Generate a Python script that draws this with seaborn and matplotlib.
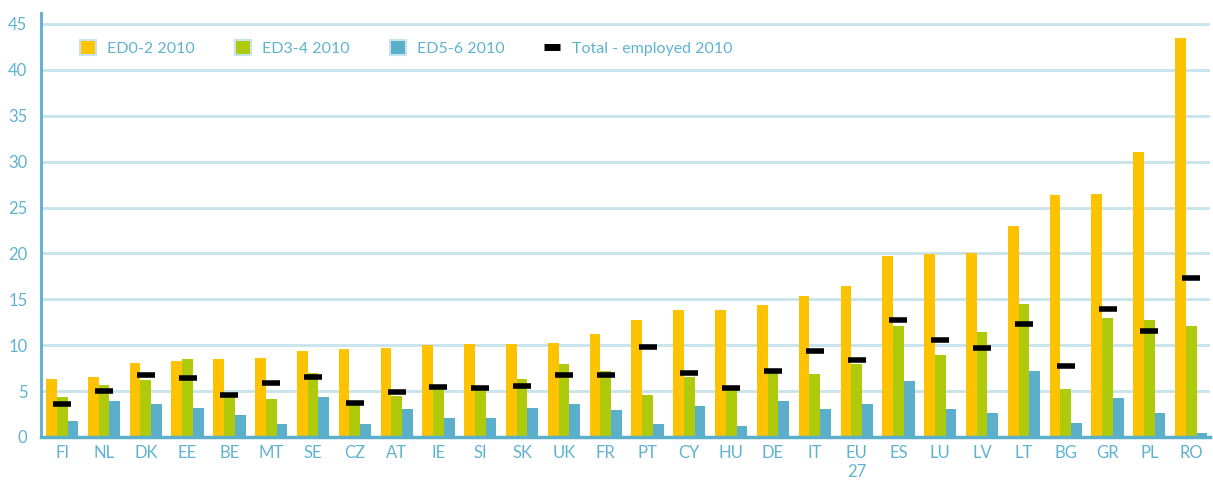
''' Unemployment rate by education level, 2010 '''

import matplotlib.pyplot as plt
import numpy as np
import pandas as pd
import seaborn as sns
from matplotlib.lines import Line2D
from matplotlib.markers import MarkerStyle
from matplotlib.patches import Patch

countries = ["FI", "NL", "DK", "EE", "BE", "MT", "SE", "CZ", "AT", "IE", "SI", "SK",
             "UK", "FR", "PT", "CY", "HU", "DE", "IT", "EU\n27", "ES", "LU", "LV", "LT",
             "BG", "GR", "PL", "RO"]
ed02 = [6.3, 6.5, 8.05, 8.3, 8.5, 8.6, 9.4, 9.6, 9.7, 10.0, 10.1, 10.1,
        10.2, 11.2, 12.7, 13.8, 13.8, 14.4, 15.4, 16.4, 19.7, 19.9, 20.1, 23.0,
        26.4, 26.5, 31.0, 43.5]
ed34 = [4.35, 5.65, 6.2, 8.5, 4.4, 4.15, 7.0, 3.6, 4.45, 5.3, 5.1, 6.3,
        7.95, 7.2, 4.6, 6.5, 5.2, 7.1, 6.9, 7.95, 12.1, 8.9, 11.4, 14.5,
        5.2, 13.0, 12.7, 12.1]
ed56 = [1.75, 3.9, 3.6, 3.15, 2.4, 1.4, 4.35, 1.4, 3.05, 2.1, 2.1, 3.2,
        3.6, 2.9, 1.4, 3.4, 1.2, 3.9, 3.1, 3.6, 6.1, 3.1, 2.6, 7.2,
        1.5, 4.25, 2.6, 0.45]
total = [3.6, 5.05, 6.7, 6.45, 4.6, 5.9, 6.55, 3.75, 4.95, 5.4, 5.3, 5.6,
         6.8, 6.7, 9.8, 7.0, 5.3, 7.2, 9.4, 8.4, 12.8, 10.6, 9.7, 12.3,
         7.7, 13.9, 11.5, 17.35]
series = ["ED0-2 2010", "ED3-4 2010", "ED5-6 2010"]
colors = ["#FDC300", "#AFCA0B", "#5BAFCA"]

TEXT = "#5FB3D0"
GRID = "#C7E3EC"
AXIS = "#5BAFCA"


def main():
    df = pd.DataFrame({"country": countries * 3,
                       "value": ed02 + ed34 + ed56,
                       "series": np.repeat(series, len(countries))})

    sns.set_style("white")
    plt.rcParams["font.family"] = ["Lato", "DejaVu Sans"]
    plt.rcParams["lines.solid_capstyle"] = "butt"

    fig = plt.figure(figsize=(12.13, 4.8), dpi=100)
    ax = fig.add_axes([0.034, 0.0896, 0.9635, 0.8834])

    sns.barplot(data=df, x="country", y="value", hue="series", palette=colors,
                width=0.77, saturation=1, linewidth=0, edgecolor="none",
                ax=ax, legend=False, zorder=3)
    sns.pointplot(x=countries, y=total, linestyle="none",
                  marker=MarkerStyle("_", capstyle="butt"), markersize=13,
                  markeredgewidth=4, color="black", ax=ax, zorder=4)

    ax.set_xlim(-0.5, len(countries) - 0.55)
    ax.set_ylim(0, 46.2)
    ax.set_yticks(np.arange(0, 46, 5))
    ax.yaxis.grid(True, color=GRID, linewidth=2, zorder=0)
    ax.set_axisbelow(True)
    ax.set_xlabel("")
    ax.set_ylabel("")

    for side in ["top", "right"]:
        ax.spines[side].set_visible(False)
    ax.spines["left"].set_color(AXIS)
    ax.spines["left"].set_linewidth(2)
    ax.spines["bottom"].set_color(AXIS)
    ax.spines["bottom"].set_linewidth(2.5)
    ax.spines["bottom"].set_zorder(5)

    ax.tick_params(axis="both", length=0, labelcolor=TEXT, labelsize=12)
    ax.tick_params(axis="y", pad=10)
    ax.tick_params(axis="x", pad=6)

    handles = [Patch(facecolor=c, edgecolor="#C7E3EC", linewidth=1.5) for c in colors]
    handles.append(Line2D([0], [0], color="black", linewidth=5))
    labels = series + ["Total - employed 2010"]
    ax.legend(handles, labels, loc="center left", bbox_to_anchor=(0.021, 0.917),
              ncol=4, frameon=False, fontsize=11.5, labelcolor=TEXT,
              handlelength=1.0, handleheight=1.1, handletextpad=0.7,
              columnspacing=2.5)

    fig.savefig("out.png", dpi=100)


if __name__ == "__main__":
    main()
